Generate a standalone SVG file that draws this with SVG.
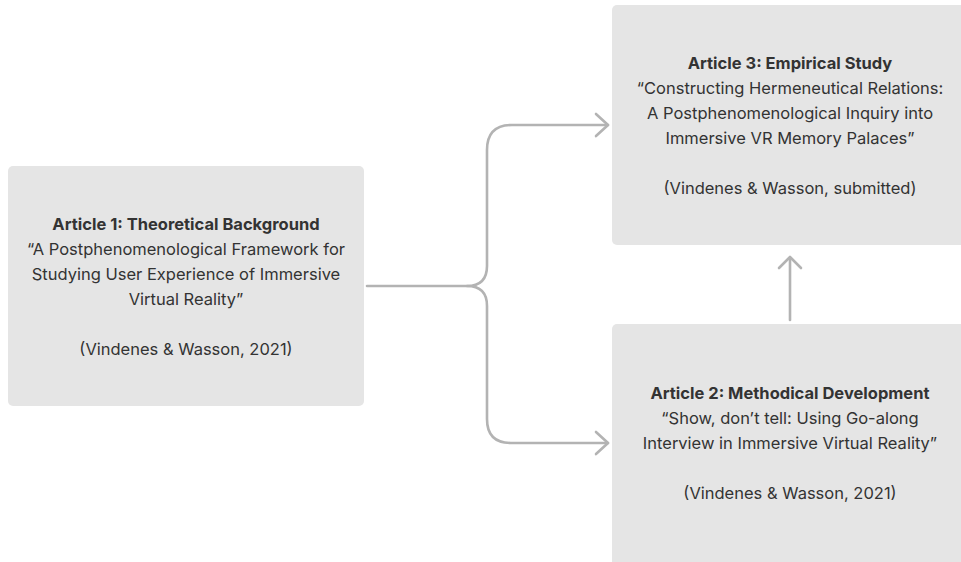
<svg xmlns="http://www.w3.org/2000/svg" width="961" height="562" viewBox="0 0 961 562">
  <style>
    .box { fill: #e5e5e5; }
    .t { font-family: Inter, "Noto Sans", "Liberation Sans", sans-serif; font-size: 16.5px; fill: #333333; text-anchor: middle; }
    .b { font-weight: 700; }
    .conn { fill: none; stroke: #b3b3b3; stroke-width: 2.6; stroke-linecap: round; stroke-linejoin: round; }
  </style>
  <rect width="961" height="562" fill="#ffffff"/>

  <g id="article1">
    <rect class="box" x="8" y="166" width="356" height="240" rx="5"/>
    <text class="t b" x="186" y="230">Article 1: Theoretical Background</text>
    <text class="t" x="186" y="255">“A Postphenomenological Framework for</text>
    <text class="t" x="186" y="280">Studying User Experience of Immersive</text>
    <text class="t" x="186" y="305">Virtual Reality”</text>
    <text class="t" x="186" y="355">(Vindenes &amp; Wasson, 2021)</text>
  </g>

  <g id="article3">
    <rect class="box" x="612" y="5" width="356" height="240" rx="5"/>
    <text class="t b" x="790" y="69">Article 3: Empirical Study</text>
    <text class="t" x="790" y="94">“Constructing Hermeneutical Relations:</text>
    <text class="t" x="790" y="119">A Postphenomenological Inquiry into</text>
    <text class="t" x="790" y="144">Immersive VR Memory Palaces”</text>
    <text class="t" x="790" y="194">(Vindenes &amp; Wasson, submitted)</text>
  </g>

  <g id="article2">
    <rect class="box" x="612" y="324" width="356" height="245" rx="5"/>
    <text class="t b" x="790" y="399">Article 2: Methodical Development</text>
    <text class="t" x="790" y="424">“Show, don’t tell: Using Go-along</text>
    <text class="t" x="790" y="449">Interview in Immersive Virtual Reality”</text>
    <text class="t" x="790" y="499">(Vindenes &amp; Wasson, 2021)</text>
  </g>

  <g id="connectors">
    <!-- branching brace from Article 1 to Articles 3 and 2 -->
    <path class="conn" d="M367,286 H467 Q487,286 487,266 V150 Q487,125 512,125 H608"/>
    <path class="conn" d="M467,286 Q487,286 487,306 V419 Q487,443 511,443 H608"/>
    <path class="conn" d="M596,114 L608,125 L596,136"/>
    <path class="conn" d="M596,432 L608,443 L596,454"/>
    <!-- Article 2 feeds Article 3 -->
    <path class="conn" d="M790,320 V258"/>
    <path class="conn" d="M779,268 L790,257 L801,268"/>
  </g>
</svg>
